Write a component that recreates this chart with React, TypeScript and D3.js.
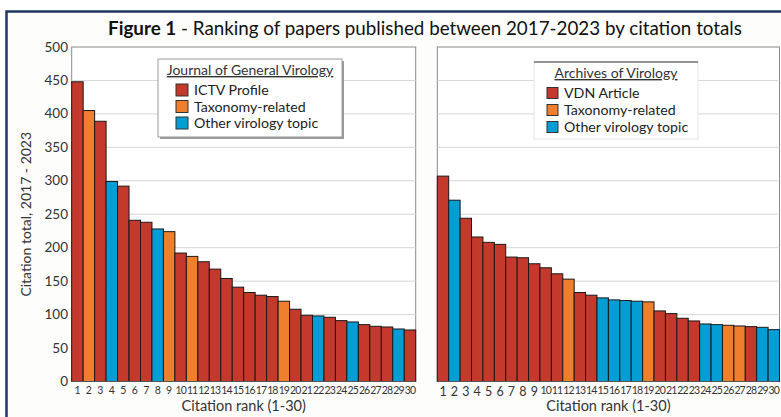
import * as d3 from "d3";

// citation totals, rank 1-30
const ranks = d3.range(1, 31).map(String);

const jgvValues = [448, 405, 389, 299, 292, 241, 238, 228, 224, 192, 187, 179, 168, 154, 141, 133, 129, 127, 120, 108, 99, 98, 96, 91, 89, 85, 82.5, 81.5, 78.5, 77];
// p = profile / VDN article, t = taxonomy-related, o = other virology topic
const jgvTypes = ["p", "t", "p", "o", "p", "p", "p", "o", "t", "p", "t", "p", "p", "p", "p", "p", "p", "p", "t", "p", "p", "o", "p", "p", "o", "p", "p", "p", "o", "p"];

const avValues = [307, 271, 244, 216, 208, 205, 186, 185, 176, 170, 161, 153, 133, 129, 125, 122, 121, 120, 119, 105.5, 101.5, 94.5, 90.5, 86, 85, 84, 83, 82, 81, 77.5];
const avTypes = ["p", "o", "p", "p", "p", "p", "p", "p", "p", "p", "p", "t", "p", "p", "o", "o", "o", "o", "t", "p", "p", "p", "p", "o", "o", "t", "t", "p", "o", "o"];

const yTicks = [0, 50, 100, 150, 200, 250, 300, 350, 400, 450, 500];

const jgvLegend = ["ICTV Profile", "Taxonomy-related", "Other virology topic"];
const avLegend = ["VDN Article", "Taxonomy-related", "Other virology topic"];

const colors: Record<string, string> = { p: "#c4392c", t: "#ef7f2c", o: "#049ed5" };
const typeKeys = ["p", "t", "o"];

const W = 781;
const H = 417;
const FONT = "Lato, 'Open Sans', sans-serif";

const plotTop = 47;
const plotBottom = 381.5;

const y = d3.scaleLinear().domain([0, 500]).range([plotBottom, plotTop]);

function Panel({ x0, x1, values, types, bigFirst }: { x0: number; x1: number; values: number[]; types: string[]; bigFirst: boolean }) {
  const x = d3.scaleBand<string>().domain(ranks).range([x0, x1]).padding(0);
  return (
    <g>
      <rect x={x0} y={plotTop} width={x1 - x0} height={plotBottom - plotTop} fill="#fff" stroke="#8a8a8a" strokeWidth={1} />
      {yTicks.slice(1, -1).map((t) => (
        <line key={t} x1={x0} x2={x1} y1={y(t)} y2={y(t)} stroke="#d6d6d6" strokeWidth={1} />
      ))}
      {values.map((v, i) => (
        <rect
          key={i}
          x={x(ranks[i])!}
          y={y(v)}
          width={x.bandwidth()}
          height={y(0) - y(v)}
          fill={colors[types[i]]}
          stroke="#1a1a1a"
          strokeWidth={1}
        />
      ))}
      <line x1={x0} x2={x1} y1={y(0)} y2={y(0)} stroke="#555" strokeWidth={1} />
      {ranks.map((r) => (
        <text
          key={r}
          x={x(r)! + x.bandwidth() / 2}
          y={bigFirst && r.length === 1 ? 396 : 394}
          textAnchor="middle"
          fontSize={bigFirst && r.length === 1 ? 12.5 : 10.5}
          letterSpacing={r.length > 1 ? -0.9 : 0}
          fill="#333"
        >
          {r}
        </text>
      ))}
      <text x={(x0 + x1) / 2} y={411} textAnchor="middle" fontSize={14.5} fill="#333">
        Citation rank (1-30)
      </text>
    </g>
  );
}

function Legend({ x0, y0, w, h, title, labels, shadow, size, gap }: { x0: number; y0: number; w: number; h: number; title: string; labels: string[]; shadow: boolean; size: number; gap: number }) {
  return (
    <g>
      {shadow && <rect x={x0 + 2} y={y0 + 2} width={w} height={h} fill="#9a9a9a" />}
      <rect x={x0} y={y0} width={w} height={h} fill="#fff" stroke={shadow ? "#9a9a9a" : "#e6e6e6"} strokeWidth={1} />
      {!shadow && <line x1={x0} x2={x0 + w} y1={y0} y2={y0} stroke="#333" strokeWidth={1.2} />}
      <text x={x0 + w / 2} y={y0 + 16} textAnchor="middle" fontSize={14} fill="#333" textDecoration="underline">
        {title}
      </text>
      {labels.map((l, i) => (
        <g key={l} transform={`translate(${x0 + (shadow ? 18 : 13)},${y0 + 31 + i * gap})`}>
          <rect x={0} y={-size / 2} width={size} height={size} fill={colors[typeKeys[i]]} stroke="#333" strokeWidth={1} />
          <text x={size + 6} y={5} fontSize={14.2} fill="#222">
            {l}
          </text>
        </g>
      ))}
    </g>
  );
}

export default function App() {
  return (
    <svg width={W} height={H} style={{ position: "absolute", left: 0, top: 0 }} fontFamily={FONT}>
      <rect x={0} y={0} width={W} height={H} fill="#fff" />
      <rect x={6.5} y={11.5} width={W + 20} height={H + 20} fill="#fdfdfb" stroke="#1f3865" strokeWidth={2.5} />
      <text x={425} y={35} textAnchor="middle" fontSize={18.8} fill="#111">
        <tspan fontWeight="bold">Figure 1</tspan> - Ranking of papers published between 2017-2023 by citation totals
      </text>

      {yTicks.map((t) => (
        <text key={t} x={68} y={y(t) + 4.5} textAnchor="end" fontSize={13.5} fill="#333">
          {t}
        </text>
      ))}
      <text transform={`translate(31,${(plotTop + plotBottom) / 2}) rotate(-90)`} textAnchor="middle" fontSize={14} fill="#333">
        Citation total, 2017 - 2023
      </text>

      <Panel x0={71.7} x1={415.7} values={jgvValues} types={jgvTypes} bigFirst={false} />
      <Panel x0={437.3} x1={779.5} values={avValues} types={avTypes} bigFirst={true} />

      <Legend x0={158} y0={59} w={184} h={78} title="Journal of General Virology" labels={jgvLegend} shadow={true} size={12} gap={16.5} />
      <Legend x0={534} y0={62} w={164} h={77} title="Archives of Virology" labels={avLegend} shadow={false} size={11} gap={17} />
    </svg>
  );
}
